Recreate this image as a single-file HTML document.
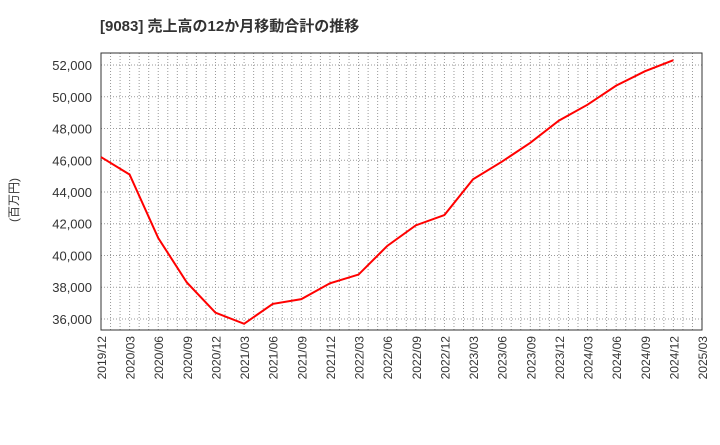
<!DOCTYPE html>
<html><head><meta charset="utf-8"><style>
body{margin:0;background:#fff;font-family:"Liberation Sans","Noto Sans CJK JP",sans-serif;}
svg text{font-family:"Liberation Sans","Noto Sans CJK JP",sans-serif;}
</style></head><body>
<svg id="c" width="720" height="440"></svg>
<script>
const categories=["2019/12","2020/03","2020/06","2020/09","2020/12","2021/03","2021/06","2021/09","2021/12","2022/03","2022/06","2022/09","2022/12","2023/03","2023/06","2023/09","2023/12","2024/03","2024/06","2024/09","2024/12"];
const values=[46200,45100,41100,38300,36400,35700,36950,37250,38250,38800,40600,41900,42550,44800,45900,47100,48500,49500,50700,51600,52300];
const xTickLabels=["2019/12","2020/03","2020/06","2020/09","2020/12","2021/03","2021/06","2021/09","2021/12","2022/03","2022/06","2022/09","2022/12","2023/03","2023/06","2023/09","2023/12","2024/03","2024/06","2024/09","2024/12","2025/03"];
const yTicks=[36000,38000,40000,42000,44000,46000,48000,50000,52000];
const NS="http://www.w3.org/2000/svg",svg=document.getElementById('c');
const L=101,R=702,T=53,B=330,yMin=35307,yMax=52756;
const x=i=>L+(R-L)*i/(xTickLabels.length-1);
const y=v=>B-(v-yMin)/(yMax-yMin)*(B-T);
function el(t,a,txt){const e=document.createElementNS(NS,t);for(const k in a)e.setAttribute(k,a[k]);if(txt!=null)e.textContent=txt;svg.appendChild(e);return e;}
let e=el('text',{x:100,y:31,'font-size':15,'font-weight':'bold',fill:'#333'},'[9083]  売上高の12か月移動合計の推移');

const nm=(xTickLabels.length-1)*3;
for(let m=1;m<nm;m++){const xx=L+(R-L)*m/nm;
 e=el('line',{x1:xx,x2:xx,y1:T,y2:B,stroke:'#999','stroke-dasharray':'1,2','stroke-width':1});
 }
yTicks.forEach(v=>{const yy=y(v);
 e=el('line',{x1:L,x2:R,y1:yy,y2:yy,stroke:'#999','stroke-dasharray':'1,2'});
 
 e=el('text',{x:92,y:yy+5,'text-anchor':'end','font-size':13,fill:'#333'},v.toLocaleString('en-US'));
 });
xTickLabels.forEach((s,i)=>{const xx=x(i);
 e=el('text',{transform:`translate(${xx+5},336) rotate(-90)`,'text-anchor':'end','font-size':12,fill:'#333'},s);
 });
e=el('rect',{x:L,y:T,width:R-L,height:B-T,fill:'none',stroke:'#333','stroke-width':1});

e=el('text',{transform:'translate(18,200) rotate(-90)','text-anchor':'middle','font-size':12,fill:'#333'},'(百万円)');

e=el('polyline',{points:values.map((v,i)=>x(i)+','+y(v)).join(' '),fill:'none',stroke:'#f00','stroke-width':2});

</script>
</body></html>
